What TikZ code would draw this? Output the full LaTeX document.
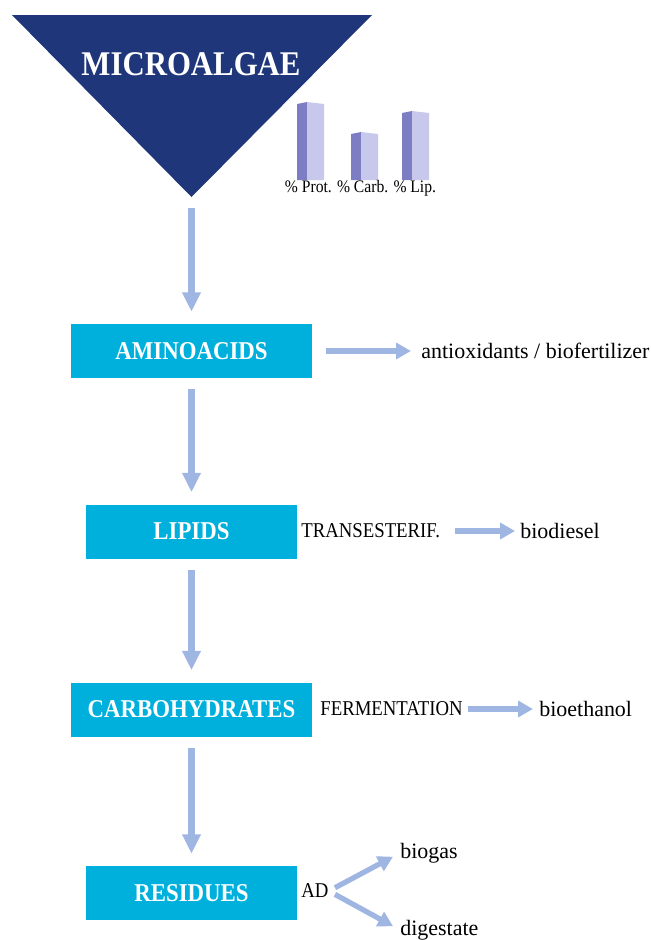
\documentclass[tikz,border=0pt]{standalone}
\usepackage{fontspec}
\setmainfont{Liberation Serif}
\newfontfamily\condfont{Liberation Serif}[FakeStretch=0.89]
\usepackage{tikz}
\usetikzlibrary{arrows.meta}

\definecolor{algaenavy}{RGB}{31,55,122}
\definecolor{boxcyan}{RGB}{0,176,220}
\definecolor{arrowblue}{RGB}{160,182,226}
\definecolor{bardark}{RGB}{125,125,195}
\definecolor{barlight}{RGB}{200,200,236}

\begin{document}
\begin{tikzpicture}[x=0.02cm, y=-0.02cm,
  stage/.style={fill=boxcyan, text=white, font=\condfont\bfseries\fontsize{14.6pt}{17pt}\selectfont, minimum height=1.08cm},
  prod/.style={inner sep=0pt, anchor=west},
  bigtext/.style={font=\fontsize{12.5pt}{14pt}\selectfont},
  captext/.style={font=\condfont\fontsize{12pt}{14pt}\selectfont},
  vflow/.style={draw=arrowblue, line width=3.6pt, -{Triangle[width=10pt,length=11pt]}, shorten <=6.3pt, shorten >=6.8pt},
  hflow/.style={draw=arrowblue, line width=3pt, -{Triangle[width=9pt,length=8.5pt]}}]
\useasboundingbox (0,0) rectangle (650,940);

\fill [algaenavy] (12,15) -- (372,15) -- (191.5,197) -- cycle;
\coordinate (TIP) at (191.5,197);
\node [text=white, font=\condfont\bfseries\fontsize{19.7pt}{23pt}\selectfont] (MICRO) at (191,64) {MICROALGAE};

\foreach \x/\t in {297/102, 351/132, 402/111} {
  \fill [bardark] (\x,\t+2) -- (\x+10,\t) -- (\x+10,180) -- (\x,180) -- cycle;
  \fill [barlight] (\x+10,\t) -- (\x+27,\t+2) -- (\x+27,180) -- (\x+10,180) -- cycle;
}
\node [font=\condfont\fontsize{10pt}{12pt}\selectfont] (COMP) at (360.5,188) {\% Prot. \% Carb. \% Lip.};

\node [stage, minimum width=4.84cm] (AMINO) at (191.5,351) {AMINOACIDS};
\node [stage, minimum width=4.22cm] (LIPIDS) at (191.5,531.5) {LIPIDS};
\node [stage, minimum width=4.84cm] (CARBS) at (191.5,709.5) {CARBOHYDRATES};
\node [stage, minimum width=4.22cm] (RESID) at (191.5,893) {RESIDUES};

\node [prod, bigtext] (ANTI) at (421,351) {antioxidants / biofertilizer};
\node [prod, captext] (TRANS) at (301,531) {TRANSESTERIF.};
\node [prod, bigtext] (BIOD) at (520,531) {biodiesel};
\node [prod, captext] (FERM) at (320,709) {FERMENTATION};
\node [prod, bigtext] (BIOE) at (539,709) {bioethanol};
\node [prod, captext] (AD) at (301,891) {AD};
\node [prod, bigtext] (BIOG) at (400,853) {biogas};
\node [prod, bigtext] (DIG) at (400,930) {digestate};

\draw [vflow] (TIP) -- (AMINO);
\draw [vflow] (AMINO) -- (LIPIDS);
\draw [vflow] (LIPIDS) -- (CARBS);
\draw [vflow] (CARBS) -- (RESID);
\draw [hflow, shorten <=7.4pt, shorten >=5.7pt] (AMINO.east) -- (ANTI.west);
\draw [hflow, shorten <=8.5pt, shorten >=2.8pt] (TRANS.east) -- (BIOD.west);
\draw [hflow, shorten <=2.8pt, shorten >=3.4pt] (FERM.east) -- (BIOE.west);
\draw [hflow, shorten <=4pt, shorten >=4.5pt] (AD.east) -- (BIOG.west);
\draw [hflow, shorten <=4pt, shorten >=4.5pt] (AD.east) -- (DIG.west);
\end{tikzpicture}
\end{document}
